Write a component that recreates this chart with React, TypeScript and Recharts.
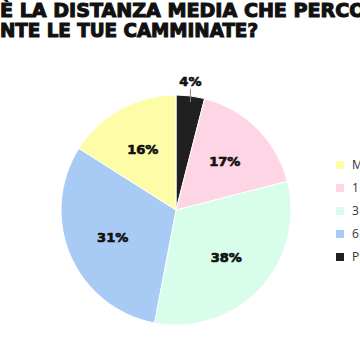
import React from "react";
import { PieChart, Pie, Cell, Legend } from "recharts";

const categories = ["Più di 10 km", "1 - 3 km", "3 - 6 km", "6 - 10 km", "Meno di 1 km"];
const values = [4, 17, 32, 31, 16];
const percentLabels = ["4%", "17%", "38%", "31%", "16%"];
const colors = ["#202020", "#FDD5E4", "#D8FDEB", "#A7CBF4", "#FDFDA8"];
const legendOrder = [4, 1, 2, 3, 0];

const data = categories.map((name, i) => ({ name, value: values[i], label: percentLabels[i] }));

const FONT = "'DejaVu Sans', sans-serif";
const RAD = Math.PI / 180;

const renderLabel = (props: any) => {
  const { cx, cy, midAngle, outerRadius, index } = props;
  const label = percentLabels[index];
  if (index === 0) {
    const x = cx + outerRadius * Math.cos(-midAngle * RAD);
    const yIn = cy - (outerRadius - 7);
    const yOut = cy - (outerRadius + 6);
    return (
      <g>
        <line x1={x} y1={yIn} x2={x} y2={yOut} stroke="#888" strokeWidth={1} />
        <text x={x} y={yOut - 8} textAnchor="middle" dominantBaseline="central" fontFamily={FONT} fontWeight="bold" fontSize={13} fill="#111" stroke="#111" strokeWidth={0.7}>
          {label}
        </text>
      </g>
    );
  }
  const r = outerRadius * 0.6;
  const x = cx + r * Math.cos(-midAngle * RAD);
  const y = cy + r * Math.sin(-midAngle * RAD);
  return (
    <text x={x} y={y} textAnchor="middle" dominantBaseline="central" fontFamily={FONT} fontWeight="bold" fontSize={13} fill="#111" stroke="#111" strokeWidth={0.7}>
      {label}
    </text>
  );
};

const renderLegend = () => (
  <div style={{ display: "flex", flexDirection: "column" }}>
    {legendOrder.map((i) => (
      <div key={i} style={{ display: "flex", alignItems: "center", height: 23, whiteSpace: "nowrap" }}>
        <span style={{ width: 8, height: 8, background: colors[i], display: "inline-block", marginRight: 8 }} />
        <span style={{ fontFamily: "'Open Sans', sans-serif", fontSize: 12, color: "#333" }}>{categories[i]}</span>
      </div>
    ))}
  </div>
);

const titleStyle = { fontFamily: FONT, fontWeight: "bold" as const, fontSize: 19, fill: "#111", stroke: "#111", strokeWidth: 1.1 };

export default function App() {
  return (
    <div style={{ position: "absolute", left: 0, top: 0, width: 360, height: 360, overflow: "hidden", background: "#fff" }}>
      <PieChart width={360} height={360} margin={{ top: 0, right: 0, bottom: 0, left: 0 }}>
        <Pie
          data={data}
          dataKey="value"
          nameKey="name"
          cx={176}
          cy={210}
          outerRadius={115}
          startAngle={90}
          endAngle={-270}
          stroke="#fff"
          strokeWidth={1}
          label={renderLabel}
          labelLine={false}
          isAnimationActive={false}
        >
          {data.map((d, i) => (
            <Cell key={d.name} fill={colors[i]} />
          ))}
        </Pie>
        <Legend content={renderLegend} wrapperStyle={{ left: 336, top: 153, width: 200 }} />
      </PieChart>
      <svg width={360} height={60} style={{ position: "absolute", left: 0, top: 0 }}>
        <text x={-6} y={17} textAnchor="end" {...titleStyle}>QUAL</text>
        <text x={0} y={17} textLength={402} lengthAdjust="spacingAndGlyphs" {...titleStyle}>
          È LA DISTANZA MEDIA CHE PERCORRI
        </text>
        <text x={-1} y={37} textAnchor="end" {...titleStyle}>DURA</text>
        <text x={0} y={37} textLength={258} lengthAdjust="spacingAndGlyphs" {...titleStyle}>
          NTE LE TUE CAMMINATE?
        </text>
      </svg>
    </div>
  );
}
